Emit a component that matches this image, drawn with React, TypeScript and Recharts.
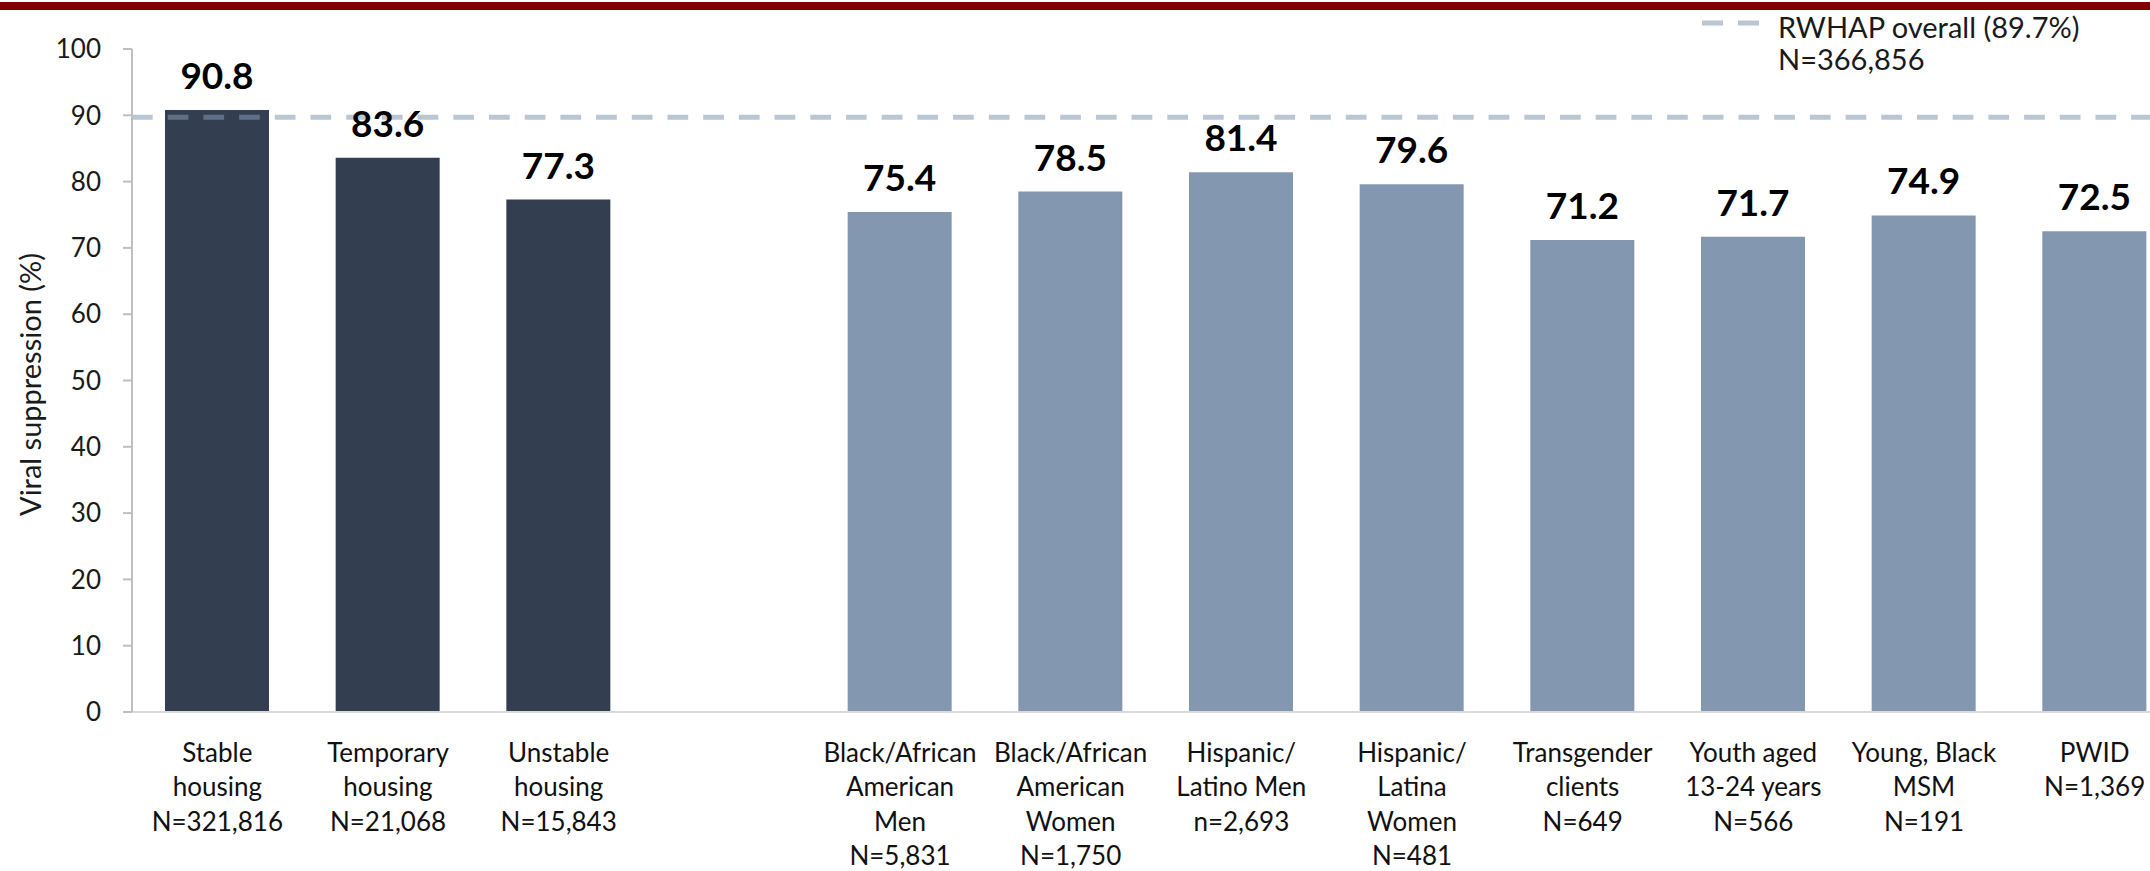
import { Bar, BarChart, Cell, Label, LabelList, ReferenceLine, XAxis, YAxis } from 'recharts'

// category labels, one line per \n; the blank one is the gap between the two groups
const categories = [
  'Stable\nhousing\nN=321,816',
  'Temporary\nhousing\nN=21,068',
  'Unstable\nhousing\nN=15,843',
  '',
  'Black/African\nAmerican\nMen\nN=5,831',
  'Black/African\nAmerican\nWomen\nN=1,750',
  'Hispanic/\nLatino Men\nn=2,693',
  'Hispanic/\nLatina\nWomen\nN=481',
  'Transgender\nclients\nN=649',
  'Youth aged\n13-24 years\nN=566',
  'Young, Black\nMSM\nN=191',
  'PWID\nN=1,369',
]
const suppression = [90.8, 83.6, 77.3, null, 75.4, 78.5, 81.4, 79.6, 71.2, 71.7, 74.9, 72.5]
const groups = ['housing', 'housing', 'housing', '', 'priority', 'priority', 'priority', 'priority', 'priority', 'priority', 'priority', 'priority']
const yTicks = [0, 10, 20, 30, 40, 50, 60, 70, 80, 90, 100]
const overall = 89.7
const legendLines = ['RWHAP overall (89.7%)', 'N=366,856']

const FONT = 'Lato, "Noto Sans", sans-serif'
const groupColor: Record<string, string> = { housing: '#333f50', priority: '#8497b0', '': '#ffffff' }

const data = categories.map((category, i) => ({
  category,
  value: suppression[i],
  group: groups[i],
}))

function CategoryTick({ x, y, payload }: { x?: number; y?: number; payload?: { value: string } }) {
  const lines = (payload?.value ?? '').split('\n').filter(Boolean)
  return (
    <g>
      {lines.map((line, i) => (
        <text
          key={i}
          x={x}
          y={(y ?? 0) + 32 + i * 34.3}
          textAnchor="middle"
          dominantBaseline="central"
          fontFamily={FONT}
          fontSize={26}
          fill="#111111"
        >
          {line}
        </text>
      ))}
    </g>
  )
}

function renderValue(props: any) {
  const { x, y, width, value } = props
  if (value == null) return null
  return (
    <text
      x={Number(x) + Number(width) / 2}
      y={Number(y) - 21}
      textAnchor="middle"
      fontFamily={FONT}
      fontWeight={700}
      fontSize={37}
      fill="#000000"
    >
      {Number(value).toFixed(1)}
    </text>
  )
}

function renderYTitle(props: any) {
  const vb = props.viewBox ?? { y: 49, height: 663 }
  const cx = 29
  const cy = vb.y + vb.height / 2 + 4
  return (
    <text
      x={cx}
      y={cy}
      transform={`rotate(-90 ${cx} ${cy})`}
      textAnchor="middle"
      dominantBaseline="central"
      fontFamily={FONT}
      fontSize={29}
      fill="#1a1a1a"
    >
      Viral suppression (%)
    </text>
  )
}

export default function App() {
  return (
    <div
      style={{
        position: 'fixed',
        left: 0,
        top: 0,
        width: 2150,
        height: 871,
        overflow: 'hidden',
        background: '#ffffff',
        fontFamily: FONT,
      }}
    >
      <div style={{ position: 'absolute', left: 0, top: 2, width: 2150, height: 8, background: '#7f0000' }} />

      <div style={{ position: 'absolute', left: 0, top: 0 }}>
        <BarChart width={2180} height={871} data={data} margin={{ top: 49, right: 0, bottom: 0, left: 0 }}>
          <XAxis
            dataKey="category"
            interval={0}
            height={159}
            tickLine={false}
            axisLine={{ stroke: '#d9d9d9', strokeWidth: 2 }}
            tick={(props: any) => <CategoryTick {...props} />}
          />
          <YAxis
            width={132}
            domain={[0, 100]}
            ticks={yTicks}
            interval={0}
            tickSize={9}
            tickMargin={22}
            axisLine={{ stroke: '#bfbfbf', strokeWidth: 2 }}
            tickLine={{ stroke: '#bfbfbf', strokeWidth: 2 }}
            tick={{ fill: '#1a1a1a', fontSize: 26, fontFamily: FONT }}
          >
            <Label content={renderYTitle} />
          </YAxis>
          <Bar dataKey="value" barSize={104} isAnimationActive={false}>
            {data.map((d, i) => (
              <Cell key={i} fill={groupColor[d.group]} />
            ))}
            <LabelList dataKey="value" content={renderValue} />
          </Bar>
          <ReferenceLine
            y={overall}
            stroke="#8497b0"
            strokeOpacity={0.55}
            strokeWidth={5}
            strokeDasharray="20.7 15"
          />
        </BarChart>
      </div>

      <svg style={{ position: 'absolute', left: 1702, top: 18 }} width={58} height={10}>
        <line x1={0} y1={5} x2={58} y2={5} stroke="#8497b0" strokeOpacity={0.55} strokeWidth={5} strokeDasharray="21 15" />
      </svg>
      {legendLines.map((line, i) => (
        <div
          key={i}
          style={{
            position: 'absolute',
            left: 1778,
            top: 27 + i * 32 - 17,
            height: 34,
            lineHeight: '34px',
            fontSize: 29,
            color: '#1a1a1a',
            whiteSpace: 'nowrap',
          }}
        >
          {line}
        </div>
      ))}
    </div>
  )
}
